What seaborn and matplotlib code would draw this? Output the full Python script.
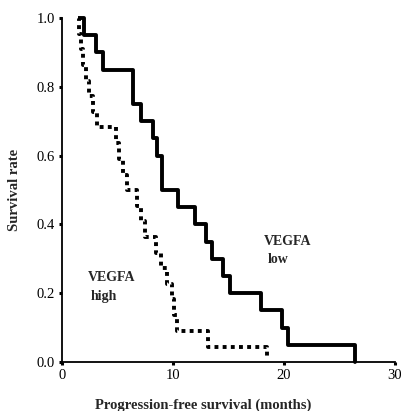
import matplotlib
matplotlib.use('Agg')
import matplotlib.pyplot as plt
import seaborn as sns
import pandas as pd

# 생존 곡선 데이터
low_time = [1.6, 2.0, 3.1, 3.7, 6.4, 7.1, 8.2, 8.6, 9.0, 10.5, 12.0, 13.0, 13.5, 14.5, 15.1, 17.9, 19.8, 20.4, 26.4]
low_surv = [1.0, 0.95, 0.90, 0.85, 0.75, 0.70, 0.65, 0.60, 0.50, 0.45, 0.40, 0.35, 0.30, 0.25, 0.20, 0.15, 0.10, 0.05, 0.0]

high_time = [1.4, 1.5, 1.7, 1.9, 2.2, 2.4, 2.8, 3.2, 4.9, 5.1, 5.5, 5.9, 6.8, 7.1, 7.5, 8.5, 8.9, 9.5, 9.9, 10.1, 10.4, 13.2, 18.5]
high_surv = [1.0, 0.955, 0.91, 0.864, 0.818, 0.773, 0.727, 0.682, 0.636, 0.591, 0.545, 0.5, 0.455,
             0.409, 0.364, 0.318, 0.273, 0.227, 0.182, 0.136, 0.091, 0.045, 0.01]

x_ticks = [0, 10, 20, 30]
y_ticks = [0.0, 0.2, 0.4, 0.6, 0.8, 1.0]

low_df = pd.DataFrame({'time': low_time, 'surv': low_surv})
high_df = pd.DataFrame({'time': high_time, 'surv': high_surv})

sns.set_style('ticks')
plt.rcParams['font.family'] = ['Liberation Serif', 'DejaVu Serif']

fig = plt.figure(figsize=(4.01, 4.11), dpi=100)
ax = fig.add_axes([0.1546, 0.119, 0.830, 0.837])

sns.lineplot(data=low_df, x='time', y='surv', ax=ax, color='black', linewidth=2.8,
             drawstyle='steps-post', estimator=None, sort=False, clip_on=False)
sns.lineplot(data=high_df, x='time', y='surv', ax=ax, color='black', linewidth=2.8,
             drawstyle='steps-post', estimator=None, sort=False, clip_on=False,
             linestyle=(0, (1, 1.1)))

ax.set_xlim(0, 30)
ax.set_ylim(0, 1.0)
ax.set_xticks(x_ticks)
ax.set_yticks(y_ticks)
ax.set_yticklabels(['{:.1f}'.format(v) for v in y_ticks])
ax.tick_params(direction='out', length=2, width=2.2, labelsize=10.5, pad=3, colors='black')

for s in ['left', 'bottom']:
    ax.spines[s].set_linewidth(1.3)
    ax.spines[s].set_color('black')
sns.despine(ax=ax)

ax.set_xlabel('Progression-free survival (months)', fontsize=10.5, fontweight='bold', labelpad=12)
ax.xaxis.set_label_coords(0.425, -0.105)
ax.set_ylabel('Survival rate', fontsize=10.5, fontweight='bold', labelpad=11)

ax.text(2.35, 0.247, 'VEGFA', fontsize=10, fontweight='bold', va='center', ha='left')
ax.text(2.6, 0.19, 'high', fontsize=10, fontweight='bold', va='center', ha='left')
ax.text(18.2, 0.352, 'VEGFA', fontsize=10, fontweight='bold', va='center', ha='left')
ax.text(18.5, 0.297, 'low', fontsize=10, fontweight='bold', va='center', ha='left')

fig.savefig('out.png', dpi=100)
